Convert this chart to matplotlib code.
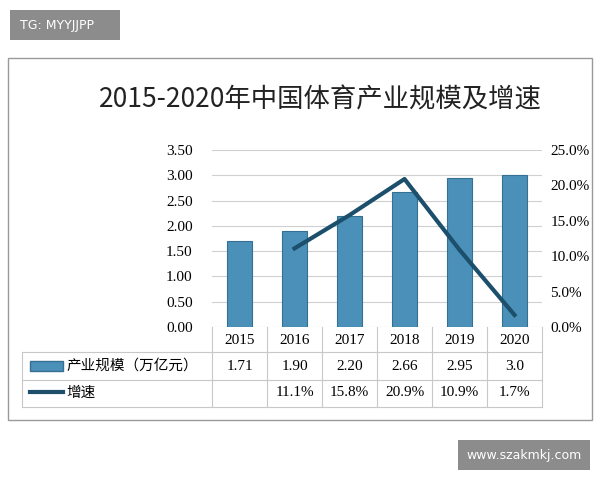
import matplotlib.pyplot as plt
from matplotlib.patches import Rectangle
import numpy as np

years = ["2015", "2016", "2017", "2018", "2019", "2020"]
scale = [1.71, 1.90, 2.20, 2.66, 2.95, 3.0]
scale_labels = ["1.71", "1.90", "2.20", "2.66", "2.95", "3.0"]
growth = [None, 11.1, 15.8, 20.9, 10.9, 1.7]
growth_labels = ["", "11.1%", "15.8%", "20.9%", "10.9%", "1.7%"]

CJK = ["Noto Sans CJK SC", "DejaVu Sans"]
SERIF = "Liberation Serif"

fig = plt.figure(figsize=(6, 4.8), dpi=100)
W, H = 600, 480
def fx(px): return px / W
def fy(py): return 1 - py / H

# outer frame
fig.patches.append(Rectangle((fx(8), fy(420)), fx(584), 362 / H, transform=fig.transFigure,
                             fill=False, edgecolor="#9a9a9a", linewidth=1))

fig.text(fx(320), fy(100), "2015-2020年中国体育产业规模及增速", ha="center", va="center",
         fontsize=19, family=CJK, color="#222222", fontweight="medium")

ax = fig.add_axes([fx(212), fy(327), fx(330), (327 - 150) / H])
x = np.arange(len(years))
ax.bar(x, scale, width=0.45, color="#4a90b8", edgecolor="#356f92", linewidth=0.8)
ax.set_xlim(-0.5, len(years) - 0.5)
ax.set_ylim(0, 3.5)
ax.set_yticks(np.arange(0, 3.51, 0.5))
ax.set_yticklabels([f"{v:.2f}" for v in np.arange(0, 3.51, 0.5)], family=SERIF, fontsize=11)
ax.set_xticks([])
ax.grid(axis="y", color="#d0d0d0", linewidth=0.8)
ax.set_axisbelow(True)
for s in ax.spines.values():
    s.set_visible(False)
ax.tick_params(length=0, pad=14)

ax2 = ax.twinx()
gx = [i for i, g in enumerate(growth) if g is not None]
gy = [g for g in growth if g is not None]
ax2.plot(gx, gy, color="#1c4f6b", linewidth=3)
ax2.set_ylim(0, 25)
ax2.set_yticks(np.arange(0, 26, 5))
ax2.set_yticklabels([f"{v:.1f}%" for v in np.arange(0, 26, 5)], family=SERIF, fontsize=11)
for s in ax2.spines.values():
    s.set_visible(False)
ax2.tick_params(length=0, pad=6)

# data table
lc = "#c8c8c8"
col_w = 330 / len(years)
def hline(py, x0, x1):
    fig.add_artist(plt.Line2D([fx(x0), fx(x1)], [fy(py), fy(py)], color=lc, linewidth=0.8))
def vline(px, y0, y1):
    fig.add_artist(plt.Line2D([fx(px), fx(px)], [fy(y0), fy(y1)], color=lc, linewidth=0.8))
hline(352, 22, 542); hline(380, 22, 542); hline(407, 22, 542)
vline(22, 352, 407)
for i in range(len(years) + 1):
    vline(212 + i * col_w, 327, 407)
for i, y in enumerate(years):
    cx = 212 + (i + 0.5) * col_w
    fig.text(fx(cx), fy(340), y, ha="center", va="center", family=SERIF, fontsize=11)
    fig.text(fx(cx), fy(366), scale_labels[i], ha="center", va="center", family=SERIF, fontsize=11)
    fig.text(fx(cx), fy(393), growth_labels[i], ha="center", va="center", family=SERIF, fontsize=11)
fig.patches.append(Rectangle((fx(30), fy(371)), fx(33), 10 / H, transform=fig.transFigure,
                             facecolor="#4a90b8", edgecolor="#356f92"))
fig.text(fx(66), fy(366), "产业规模（万亿元）", ha="left", va="center", family=CJK, fontsize=10.5)
fig.add_artist(plt.Line2D([fx(30), fx(63)], [fy(392), fy(392)], color="#1c4f6b", linewidth=3))
fig.text(fx(66), fy(393), "增速", ha="left", va="center", family=CJK, fontsize=10.5)

# watermarks
fig.patches.append(Rectangle((fx(10), fy(40)), fx(110), 30 / H, transform=fig.transFigure,
                             facecolor="#8c8c8c", edgecolor="none"))
fig.text(fx(20), fy(25), "TG: MYYJJPP", ha="left", va="center", color="white", fontsize=9)
fig.patches.append(Rectangle((fx(458), fy(470)), fx(132), 30 / H, transform=fig.transFigure,
                             facecolor="#8c8c8c", edgecolor="none"))
fig.text(fx(524), fy(455), "www.szakmkj.com", ha="center", va="center", color="white", fontsize=9)

fig.savefig("out.png", dpi=100)
